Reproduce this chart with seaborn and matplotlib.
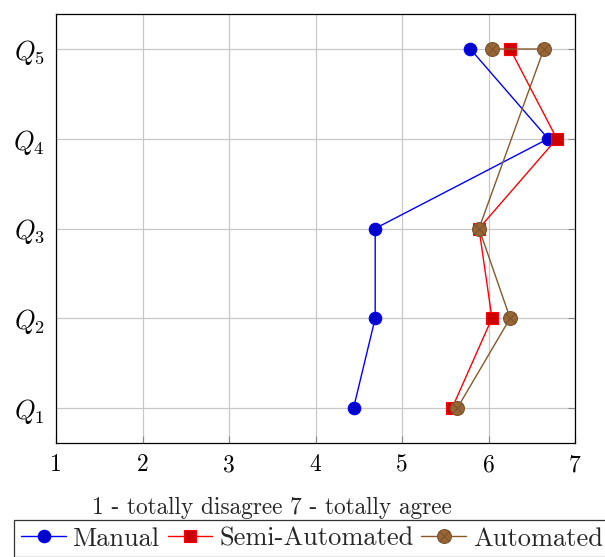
import matplotlib
matplotlib.use("Agg")
import matplotlib.pyplot as plt
import seaborn as sns
import pandas as pd
from matplotlib.path import Path

questions = ["$Q_1$", "$Q_2$", "$Q_3$", "$Q_4$", "$Q_5$"]

manual_x = [4.44, 4.69, 4.69, 6.69, 5.79]
manual_y = [1, 2, 3, 4, 5]

semi_x = [5.58, 6.04, 5.89, 6.79, 6.25]
semi_y = [1, 2, 3, 4, 5]

# the automated series in the source jumps from Q3 straight to Q5
auto_x = [5.64, 6.25, 5.89, 6.64, 6.04]
auto_y = [1, 2, 3, 5, 5]

x_ticks = [1, 2, 3, 4, 5, 6, 7]

sns.set_style("whitegrid")
plt.rcParams["font.family"] = ["cmr10", "DejaVu Serif"]
plt.rcParams["mathtext.fontset"] = "cm"
plt.rcParams["axes.formatter.use_mathtext"] = True

# circle with a cross (pgfplots otimes*)
circ = Path.unit_circle()
d = 0.707
cross = Path([(-d, -d), (d, d), (-d, d), (d, -d)],
             [Path.MOVETO, Path.LINETO, Path.MOVETO, Path.LINETO])
otimes = Path.make_compound_path(circ, cross)

fig = plt.figure(figsize=(6.05, 5.57), dpi=100)
ax = fig.add_axes([56 / 605, 1 - 443 / 557, 519 / 605, 429 / 557])

series = [
    ("Manual", manual_x, manual_y, "#0000ff", "#0000cc", "#0000ff", "o", 9),
    ("Semi-Automated", semi_x, semi_y, "#ff0000", "#cc0000", "#ff0000", "s", 9),
    ("Automated", auto_x, auto_y, "#86592d", "#996633", "#7a5530", otimes, 10),
]

for name, xs, ys, lc, fc, ec, mk, ms in series:
    df = pd.DataFrame({"score": xs, "q": ys})
    sns.lineplot(data=df, x="score", y="q", sort=False, estimator=None,
                 color=lc, lw=1.0, marker=mk, markersize=ms,
                 markerfacecolor=fc, markeredgecolor=ec, markeredgewidth=0.8,
                 label=name, ax=ax)

ax.set_xlim(1, 7)
ax.set_ylim(0.61, 5.39)
ax.set_xticks(x_ticks)
ax.set_xticklabels([str(t) for t in x_ticks], fontsize=17)
ax.set_yticks([1, 2, 3, 4, 5])
ax.set_yticklabels(questions, fontsize=19)
ax.grid(True, color="#c8c8c8", lw=0.9)
for s in ax.spines.values():
    s.set_color("black")
    s.set_linewidth(0.9)
ax.tick_params(axis="both", direction="in", length=5, color="#888888",
               labelcolor="black", pad=8)
ax.tick_params(axis="y", right=True)
ax.tick_params(axis="x", bottom=True, top=False)

ax.set_xlabel("1 - totally disagree 7 - totally agree", fontsize=16.8)
ax.xaxis.set_label_coords(0.416, -0.126, transform=ax.transAxes)
ax.xaxis.label.set_va("top")
ax.set_ylabel("")

leg = ax.legend(loc="upper left", bbox_to_anchor=(-0.08, -0.18), ncol=3,
                frameon=True, fancybox=False, fontsize=19, handlelength=1.7,
                handletextpad=0.25, columnspacing=0.3, borderpad=0.25,
                borderaxespad=0)
leg.get_frame().set_edgecolor("black")
leg.get_frame().set_linewidth(0.9)

fig.savefig("out.png", dpi=100)
